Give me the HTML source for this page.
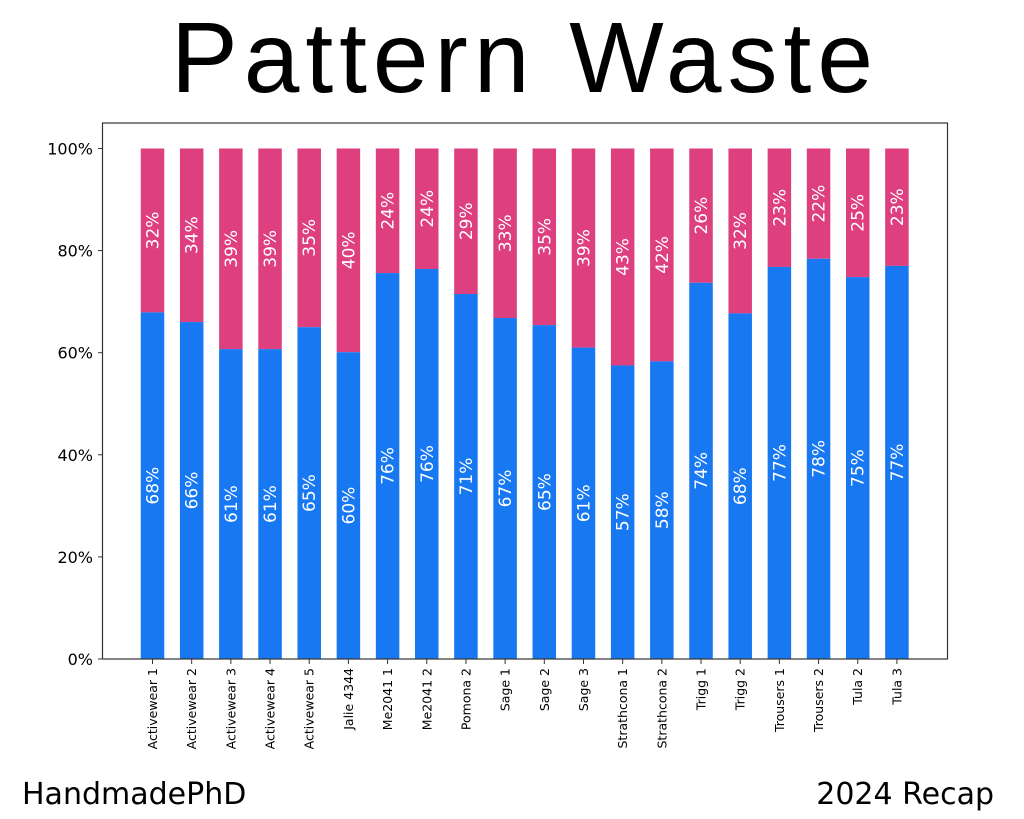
<!DOCTYPE html>
<html><head><meta charset="utf-8"><style>
body{margin:0;background:#fff;}
svg{display:block;font-family:"DejaVu Sans","Liberation Sans",sans-serif;}
</style></head><body>
<svg width="1024" height="819" viewBox="0 0 1024 819" xmlns="http://www.w3.org/2000/svg">
<text x="525" y="92" font-size="100" text-anchor="middle" fill="#000" letter-spacing="6" font-family="Liberation Sans, sans-serif">Pattern Waste</text>
<text x="22" y="804" font-size="30" fill="#000">HandmadePhD</text>
<text x="994" y="804" font-size="30" fill="#000" text-anchor="end">2024 Recap</text>
<g id="bars"></g>
<rect x="102.5" y="123" width="845" height="536" fill="none" stroke="#333" stroke-width="1.2"/>
<g font-size="16" text-anchor="end" fill="#000">
<line x1="98" x2="102" y1="659" y2="659" stroke="#333"/><text x="93" y="665">0%</text>
<line x1="98" x2="102" y1="556.9" y2="556.9" stroke="#333"/><text x="93" y="562.9">20%</text>
<line x1="98" x2="102" y1="454.8" y2="454.8" stroke="#333"/><text x="93" y="460.8">40%</text>
<line x1="98" x2="102" y1="352.7" y2="352.7" stroke="#333"/><text x="93" y="358.7">60%</text>
<line x1="98" x2="102" y1="250.6" y2="250.6" stroke="#333"/><text x="93" y="256.6">80%</text>
<line x1="98" x2="102" y1="148.5" y2="148.5" stroke="#333"/><text x="93" y="154.5">100%</text>
</g>
</svg>
<script>
const names=["Activewear 1","Activewear 2","Activewear 3","Activewear 4","Activewear 5","Jalie 4344","Me2041 1","Me2041 2","Pomona 2","Sage 1","Sage 2","Sage 3","Strathcona 1","Strathcona 2","Trigg 1","Trigg 2","Trousers 1","Trousers 2","Tula 2","Tula 3"];
const bl=[68,66,61,61,65,60,76,76,71,67,65,61,57,58,74,68,77,78,75,77];
const pl=[32,34,39,39,35,40,24,24,29,33,35,39,43,42,26,32,23,22,25,23];
const bv=[67.9,66,60.7,60.7,65,60.1,75.6,76.4,71.5,66.8,65.4,61,57.5,58.3,73.7,67.7,76.8,78.4,74.8,77];
const ns="http://www.w3.org/2000/svg";const g=document.getElementById("bars");
const y0=659,H=510.5;
function el(t,a,txt){const e=document.createElementNS(ns,t);for(const k in a)e.setAttribute(k,a[k]);if(txt)e.textContent=txt;g.appendChild(e);return e;}
for(let i=0;i<20;i++){
 const cx=152.5+i*39.18, x=cx-11.75;
 const yb=y0-bv[i]/100*H, yt=y0-H;
 el("rect",{x:x,y:yt,width:23.5,height:yb-yt,fill:"#DE3F7F"});
 el("rect",{x:x,y:yb,width:23.5,height:y0-yb,fill:"#1778F2"});
 const mb=(yb+y0)/2, mp=(yt+yb)/2;
 el("text",{x:0,y:0,transform:`translate(${cx+6},${mb}) rotate(-90)`,"text-anchor":"middle","font-size":"17",fill:"#fff"},bl[i]+"%");
 el("text",{x:0,y:0,transform:`translate(${cx+6},${mp}) rotate(-90)`,"text-anchor":"middle","font-size":"17",fill:"#fff"},pl[i]+"%");
 el("line",{x1:cx,x2:cx,y1:659,y2:664,stroke:"#333"});
 el("text",{x:0,y:0,transform:`translate(${cx+4.5},${668}) rotate(-90)`,"text-anchor":"end","font-size":"12.5",fill:"#000"},names[i]);
}
</script>
</body></html>
